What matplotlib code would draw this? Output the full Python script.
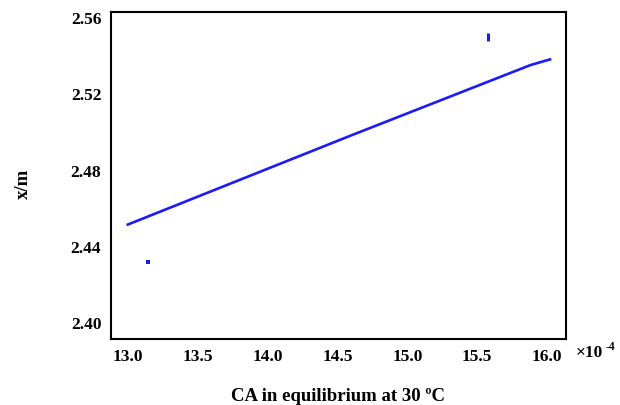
import matplotlib
matplotlib.use("Agg")
import matplotlib.pyplot as plt

# data (x in units of 1e-4)
line_x = [12.99, 14.60, 15.88, 16.03]
line_y = [2.4514, 2.4985, 2.5353, 2.5385]

pt_x = [13.14]
pt_y = [2.432]
tick_x = [15.58]
tick_y = [2.550]

xticks = [13.0, 13.5, 14.0, 14.5, 15.0, 15.5, 16.0]
yticks = [2.40, 2.44, 2.48, 2.52, 2.56]

plt.rcParams['font.family'] = ['Liberation Serif', 'DejaVu Serif']
plt.rcParams['font.weight'] = 'bold'

fig = plt.figure(figsize=(6.2, 4.05), dpi=100)
ax = fig.add_axes([0.179, 0.163, 0.734, 0.807])

ax.plot(line_x, line_y, color='#1a1aff', linewidth=1.9, solid_capstyle='butt')
ax.plot(pt_x, pt_y, 's', color='#1a1aff', markersize=2.5, markeredgewidth=0)
ax.plot(tick_x, tick_y, '|', color='#1a1aff', markersize=6, markeredgewidth=2.2)

ax.set_xlim(12.878, 16.136)
ax.set_ylim(2.3916, 2.5631)
ax.set_xticks(xticks)
ax.set_xticklabels([f"{v:.1f}" for v in xticks])
ax.set_yticks(yticks)
ax.set_yticklabels([f"{v:.2f}" for v in yticks])
ax.tick_params(length=0, labelsize=12.5, pad=7)
for lab in ax.get_xticklabels() + ax.get_yticklabels():
    lab.set_fontweight('bold')

for sp in ax.spines.values():
    sp.set_linewidth(1.5)
    sp.set_color('black')

fig.text(0.928, 0.128, "×10", fontsize=12.5, fontweight='bold', va='center', ha='left')
fig.text(0.977, 0.143, "-4", fontsize=8.5, fontweight='bold', va='center', ha='left')

fig.text(0.545, 0.022, "CA in equilibrium at 30 ºC", fontsize=13.5, fontweight='bold',
         ha='center', va='center')
fig.text(0.037, 0.545, "x/m", fontsize=13.5, fontweight='bold', rotation=90,
         ha='center', va='center')

fig.savefig("out.png", dpi=100, facecolor='white')
